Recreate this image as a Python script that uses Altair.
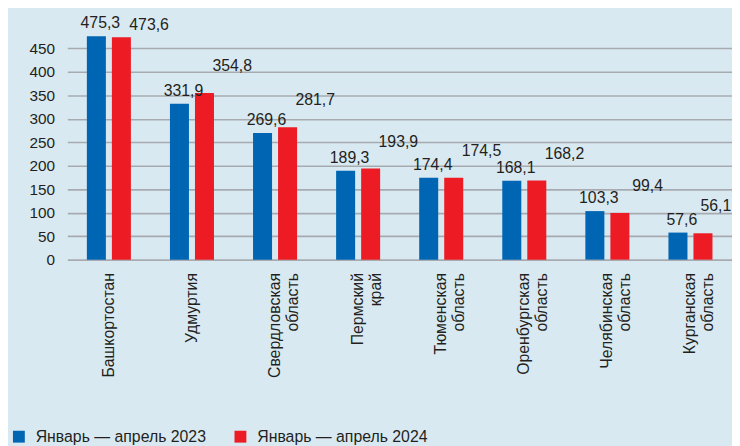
import altair as alt
import pandas as pd

regions = ["Башкортостан", "Удмуртия", "Свердловская область", "Пермский край",
           "Тюменская область", "Оренбургская область", "Челябинская область",
           "Курганская область"]
series = ["Январь — апрель 2023", "Январь — апрель 2024"]
v2023 = [475.3, 331.9, 269.6, 189.3, 174.4, 168.1, 103.3, 57.6]
v2024 = [473.6, 354.8, 281.7, 193.9, 174.5, 168.2, 99.4, 56.1]
y_ticks = [0, 50, 100, 150, 200, 250, 300, 350, 400, 450]

rows = []
for r, a, b in zip(regions, v2023, v2024):
    rows.append({"region": r, "series": series[0], "value": a})
    rows.append({"region": r, "series": series[1], "value": b})
df = pd.DataFrame(rows)

FONT = "Liberation Sans"
TXT = "#231f20"

x = alt.X("region:N", sort=regions,
          scale=alt.Scale(paddingInner=0.47, paddingOuter=0.235),
          axis=alt.Axis(title=None, labelAngle=-90, labelAlign="right", labelBaseline="middle",
                        labelPadding=13, ticks=False, domain=False, labelFontSize=16,
                        labelFont=FONT, labelColor=TXT, labelLineHeight=18,
                        labelExpr="split(datum.label, ' ')", labelLimit=200))
xo = alt.XOffset("series:N", sort=series, scale=alt.Scale(paddingInner=0.24, paddingOuter=0))
yscale = alt.Scale(domain=[0, 480], nice=False)
yaxis = alt.Axis(title=None, values=y_ticks, domain=False, ticks=False,
                 labelPadding=13, labelFontSize=15.5, labelFont=FONT, labelColor=TXT,
                 gridColor="#a7abb0", gridWidth=1.6)
y = alt.Y("value:Q", scale=yscale, axis=yaxis)
color = alt.Color("series:N", sort=series,
                  scale=alt.Scale(domain=series, range=["#0066b3", "#ed1c24"]),
                  legend=alt.Legend(title=None, orient="none", legendX=-57, legendY=399,
                                    direction="horizontal", symbolType="square",
                                    symbolSize=144, symbolStrokeWidth=0, labelFontSize=16,
                                    labelFont=FONT, labelColor=TXT, columnPadding=26,
                                    labelOffset=9, labelLimit=300))

base = alt.Chart(df)
bars = base.mark_bar().encode(x=x, xOffset=xo, y=y, color=color)

lab = base.transform_calculate(lbl="replace(format(datum.value, '.1f'), '.', ',')")
t1 = lab.transform_filter(alt.datum.series == series[0]).mark_text(
    baseline="bottom", dx=4, dy=-5, fontSize=16, font=FONT, color=TXT
).encode(x=x, xOffset=xo, y=y, text="lbl:N")
t2 = lab.transform_filter(alt.datum.series == series[1]).transform_calculate(
    ly="min(datum.value + 57, 499)"
).mark_text(
    baseline="middle", fontSize=16, font=FONT, color=TXT,
    dx={"expr": "datum.region == '" + regions[-1] + "' ? 13 : 28"},
).encode(x=x, xOffset=xo, y=alt.Y("ly:Q", scale=yscale, axis=yaxis), text="lbl:N")

chart = alt.layer(bars, t1, t2).properties(
    width=672, height=228,
    autosize=alt.AutoSizeParams(type="none"),
    padding={"left": 60, "top": 24, "right": 0, "bottom": 186},
    background="#d9e9f2",
).configure_view(stroke=None)

chart.save("out.html", embed_options={"renderer": "svg", "actions": False})
